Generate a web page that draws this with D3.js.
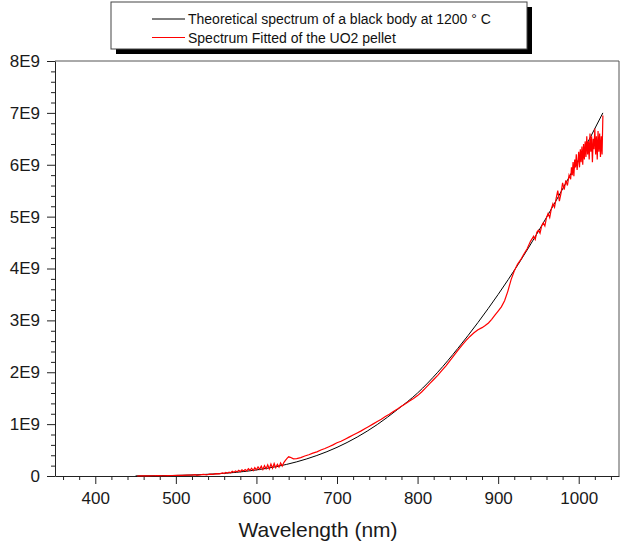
<!DOCTYPE html>
<html>
<head>
<meta charset="utf-8">
<script src="https://cdn.jsdelivr.net/npm/d3@7"></script>
<style>
    body { margin: 0; background: #fff; }
    text { font-family: Arial, "Liberation Sans", sans-serif; }
</style>
</head>
<body>
<script>
// values are in units of 1E9
let xTicks = [400, 500, 600, 700, 800, 900, 1000]
let yTicks = [0, 1, 2, 3, 4, 5, 6, 7, 8]
let yTickLabels = ["0", "1E9", "2E9", "3E9", "4E9", "5E9", "6E9", "7E9", "8E9"]

let legendLabels = ["Theoretical spectrum of a black body at 1200 ° C", "Spectrum Fitted of the UO2 pellet"]

// black body curve
let blackWl = [450, 475, 500, 525, 550, 575, 600, 625, 650, 675, 700, 725, 750, 775, 800, 825, 850, 875, 900, 925, 950, 975, 1000, 1015, 1030]
let blackVal = [0.002, 0.005, 0.011, 0.022, 0.041, 0.071, 0.117, 0.182, 0.273, 0.395, 0.552, 0.750, 0.992, 1.281, 1.600, 2.000, 2.460, 2.960, 3.500, 4.083, 4.718, 5.393, 6.104, 6.546, 7.000]

// measured spectrum of the pellet (noisy)
let redWl = [452, 456, 460, 466, 472, 478, 484, 490, 496, 502, 508, 514, 520, 524, 526, 530, 534, 538, 542, 546,
    550, 554, 558, 560, 562, 564, 566, 568, 570, 572, 574, 576, 578, 580, 582, 584, 586, 588, 590, 592,
    594, 596, 598, 600, 602, 604, 606, 608, 610, 612, 614, 616, 618, 620, 622, 624, 626, 628, 630, 632,
    634, 636, 638, 640, 642, 646, 650, 655, 660, 665, 670, 675, 680, 685, 690, 695, 700, 705, 710, 715,
    720, 725, 730, 735, 740, 745, 750, 755, 760, 765, 770, 775, 780, 785, 790, 795, 800, 805, 810, 815,
    820, 825, 830, 835, 840, 845, 850, 855, 860, 865, 870, 875, 880, 884, 888, 892, 896, 900, 904, 908,
    912, 916, 920, 924, 928, 932, 936, 940, 944, 946, 948, 950, 952, 954, 956, 958, 960, 962, 964, 966,
    968, 970, 972, 974, 976, 978, 980, 982, 984, 986, 988, 990, 991, 992, 993, 994, 995, 996, 997, 998,
    999, 1000, 1001, 1002, 1003, 1004, 1005, 1006, 1007, 1008, 1009, 1010, 1011, 1012, 1013, 1014, 1015, 1016, 1017, 1018,
    1019, 1020, 1021, 1022, 1023, 1024, 1025, 1026, 1027, 1028, 1029, 1030]
let redVal = [0.000, 0.002, 0.004, 0.003, 0.005, 0.006, 0.005, 0.008, 0.010, 0.012, 0.011, 0.016, 0.018, 0.026, 0.012, 0.022, 0.030, 0.020, 0.035, 0.030,
    0.045, 0.040, 0.060, 0.048, 0.070, 0.055, 0.075, 0.062, 0.090, 0.070, 0.095, 0.080, 0.110, 0.085, 0.120, 0.095, 0.125, 0.100, 0.140, 0.110,
    0.150, 0.105, 0.160, 0.120, 0.175, 0.130, 0.190, 0.125, 0.200, 0.140, 0.215, 0.135, 0.230, 0.150, 0.240, 0.160, 0.225, 0.170, 0.250, 0.190,
    0.260, 0.300, 0.340, 0.370, 0.360, 0.330, 0.335, 0.355, 0.385, 0.410, 0.440, 0.465, 0.500, 0.530, 0.565, 0.600, 0.640, 0.670, 0.710, 0.750,
    0.790, 0.830, 0.870, 0.915, 0.960, 1.005, 1.050, 1.095, 1.145, 1.190, 1.245, 1.290, 1.345, 1.395, 1.445, 1.495, 1.550, 1.620, 1.700, 1.780,
    1.860, 1.940, 2.030, 2.120, 2.220, 2.320, 2.420, 2.520, 2.610, 2.690, 2.760, 2.820, 2.860, 2.900, 2.950, 3.020, 3.100, 3.180, 3.260, 3.380,
    3.560, 3.780, 3.950, 4.080, 4.170, 4.280, 4.380, 4.520, 4.620, 4.560, 4.700, 4.740, 4.680, 4.820, 4.880, 4.820, 4.980, 5.060, 4.980, 5.150,
    5.250, 5.180, 5.350, 5.500, 5.300, 5.450, 5.650, 5.520, 5.700, 5.600, 5.800, 5.720, 5.950, 5.800, 6.050, 5.780, 6.100, 5.950, 6.200, 5.900,
    6.050, 6.250, 5.950, 6.300, 6.050, 6.350, 6.000, 6.400, 6.100, 6.450, 6.150, 6.550, 6.200, 6.450, 6.100, 6.600, 6.250, 6.550, 6.050, 6.500,
    6.300, 6.700, 6.200, 6.550, 6.100, 6.650, 6.250, 6.600, 6.150, 6.550, 6.200, 6.950]

let width = 621
let height = 544
let plotLeft = 55
let plotRight = 619
let plotTop = 61
let plotBottom = 476

let svg = null

window.onload = ()=>{
    svg = d3.select("body")
        .append("svg")
        .attr("width", width)
        .attr("height", height)

    drawChart()
}

function drawChart(){
    let x = d3.scaleLinear().domain([350, 1050]).range([plotLeft, plotRight])
    let y = d3.scaleLinear().domain([0, 8]).range([plotBottom, plotTop])

    //frame: top and right border
    svg.append("path")
        .attr("d", `M${plotLeft},${plotTop}H${plotRight}V${plotBottom}`)
        .attr("fill", "none")
        .attr("stroke", "#555")

    //minor ticks first, then major ticks with labels
    let xMinor = d3.range(360, 1050, 20).filter(d => d % 100 != 0)
    svg.append("g")
        .attr("transform", `translate(0,${plotBottom})`)
        .call(d3.axisBottom(x).tickValues(xMinor).tickSize(4).tickFormat(""))
        .call(g => g.select(".domain").remove())
    let xAxis = svg.append("g")
        .attr("transform", `translate(0,${plotBottom})`)
        .call(d3.axisBottom(x).tickValues(xTicks).tickSize(8).tickSizeOuter(0).tickPadding(8)
            .tickFormat(d3.format("d")))
    xAxis.selectAll("text").attr("font-size", 17).attr("fill", "#1a1a1a").attr("font-family", "Arial, 'Liberation Sans', sans-serif")

    let yMinor = d3.range(0.2, 8, 0.2).filter(d => Math.abs(d - Math.round(d)) > 0.01)
    svg.append("g")
        .attr("transform", `translate(${plotLeft},0)`)
        .call(d3.axisLeft(y).tickValues(yMinor).tickSize(4).tickFormat(""))
        .call(g => g.select(".domain").remove())
    let yAxis = svg.append("g")
        .attr("transform", `translate(${plotLeft},0)`)
        .call(d3.axisLeft(y).tickValues(yTicks).tickSize(8).tickSizeOuter(0).tickPadding(7)
            .tickFormat((d, i) => yTickLabels[i]))
    yAxis.selectAll("text").attr("font-size", 17).attr("fill", "#1a1a1a").attr("font-family", "Arial, 'Liberation Sans', sans-serif")

    svg.selectAll(".tick line").attr("stroke", "#222")
    svg.selectAll(".domain").attr("stroke", "#222")

    //axis title
    svg.append("text")
        .attr("x", 318)
        .attr("y", 537)
        .attr("text-anchor", "middle")
        .attr("font-size", 21)
        .attr("fill", "#1a1a1a")
        .text("Wavelength (nm)")

    let line = d3.line()
        .x(d => x(d[0]))
        .y(d => y(d[1]))

    let blackData = blackWl.map((d, i) => [d, blackVal[i]])
    let redData = redWl.map((d, i) => [d, redVal[i]])

    svg.append("path")
        .datum(blackData)
        .attr("d", line.curve(d3.curveMonotoneX))
        .attr("fill", "none")
        .attr("stroke", "#000")
        .attr("stroke-width", 1)

    svg.append("path")
        .datum(redData)
        .attr("d", line.curve(d3.curveLinear))
        .attr("fill", "none")
        .attr("stroke", "#ff0000")
        .attr("stroke-width", 1.2)

    drawLegend()
}

function drawLegend(){
    let lx = 111, ly = 2, lw = 416, lh = 47
    let colors = ["#000", "#ff0000"]

    //shadow behind the box
    svg.append("rect")
        .attr("x", lx + 5).attr("y", ly + 5)
        .attr("width", lw).attr("height", lh)
        .attr("fill", "#000")
    svg.append("rect")
        .attr("x", lx).attr("y", ly)
        .attr("width", lw).attr("height", lh)
        .attr("fill", "#fff")
        .attr("stroke", "#444")

    let rows = svg.selectAll("g.legrow")
        .data(legendLabels)
        .enter()
        .append("g")
        .attr("class", "legrow")
        .attr("transform", (d, i) => `translate(0,${19 + i * 18.5})`)
    rows.append("line")
        .attr("x1", 152).attr("x2", 185)
        .attr("y1", 0).attr("y2", 0)
        .attr("stroke", (d, i) => colors[i])
    rows.append("text")
        .attr("x", 188)
        .attr("y", 5)
        .attr("font-size", 14)
        .attr("fill", "#111")
        .text(d => d)
}
</script>
</body>
</html>
